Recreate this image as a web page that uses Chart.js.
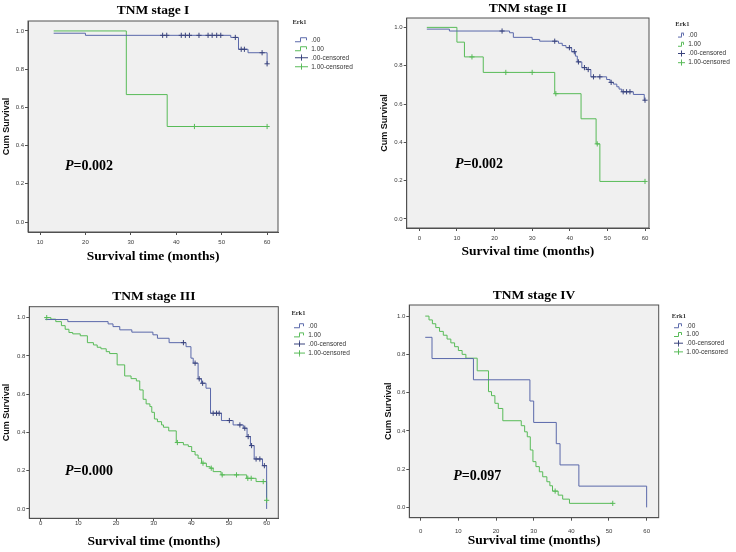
<!DOCTYPE html>
<html>
<head>
<meta charset="utf-8">
<script src="https://cdn.jsdelivr.net/npm/chart.js@4.4.1/dist/chart.umd.min.js"></script>
<style>
  body { margin: 0; background: #fff; }
  #wrap { position: relative; width: 736px; height: 552px; }
  canvas { position: absolute; }
</style>
</head>
<body>
<div id="wrap">
  <canvas id="km1" width="368" height="272" style="left:0;top:0"></canvas>
  <canvas id="km2" width="366" height="272" style="left:370px;top:0"></canvas>
  <canvas id="km3" width="368" height="277" style="left:0;top:275px"></canvas>
  <canvas id="km4" width="366" height="277" style="left:370px;top:275px"></canvas>
</div>
<script>
// ---- labels / ticks ----
const stageTitles = ['TNM stage I', 'TNM stage II', 'TNM stage III', 'TNM stage IV'];
const pValues = ['0.002', '0.002', '0.000', '0.097'];
const groupLabels = ['.00', '1.00', '.00-censored', '1.00-censored'];
const legendTitle = 'Erk1';
const xTicksStage1 = [10, 20, 30, 40, 50, 60];
const xTicks = [0, 10, 20, 30, 40, 50, 60];
const yTicks = [0, 0.2, 0.4, 0.6, 0.8, 1.0];

// ---- stage I ----
const s1LowTime = [13, 20, 52, 53.7, 55.8, 60];
const s1LowSurv = [0.988, 0.977, 0.966, 0.904, 0.886, 0.828];
const s1LowCensTime = [37, 37.9, 41.1, 42, 42.9, 45, 47, 47.9, 48.9, 49.8, 53, 54.3, 55, 58.9, 60];
const s1LowCensSurv = [0.977, 0.977, 0.977, 0.977, 0.977, 0.977, 0.977, 0.977, 0.977, 0.977, 0.966, 0.904, 0.904, 0.886, 0.828];
const s1HighTime = [13, 29, 38, 60];
const s1HighSurv = [1, 0.667, 0.5, 0.5];
const s1HighCensTime = [44, 60];
const s1HighCensSurv = [0.5, 0.5];

// ---- stage II ----
const s2LowTime = [2, 8, 24, 25, 30, 32, 37, 38, 39, 40.5, 41.5, 42, 43.2, 44.5, 45.6, 49.8, 50.7, 51.6, 52.5, 53.1, 53.8, 56.9, 59.8, 60];
const s2LowSurv = [0.991, 0.981, 0.972, 0.948, 0.937, 0.928, 0.917, 0.905, 0.894, 0.873, 0.85, 0.82, 0.79, 0.78, 0.742, 0.728, 0.713, 0.704, 0.69, 0.678, 0.664, 0.65, 0.62, 0.62];
const s2LowCensTime = [22, 36, 39.9, 41.2, 42.3, 43.9, 44.9, 46.3, 48, 51, 54.2, 55.1, 56, 60];
const s2LowCensSurv = [0.981, 0.928, 0.894, 0.873, 0.82, 0.79, 0.78, 0.742, 0.742, 0.713, 0.664, 0.664, 0.664, 0.62];
const s2HighTime = [2, 10, 12, 17, 36, 43, 47, 48, 60];
const s2HighSurv = [1, 0.923, 0.846, 0.765, 0.654, 0.523, 0.392, 0.196, 0.196];
const s2HighCensTime = [14, 23, 30, 36.3, 47.3, 60];
const s2HighCensSurv = [0.846, 0.765, 0.765, 0.654, 0.392, 0.196];

// ---- stage III ----
const s3LowTime = [1.2, 7.2, 17.9, 19.2, 21, 24.2, 29.8, 31, 34.1, 38.6, 39.9, 40.5, 41.8, 42.7, 43.9, 45.1, 48, 51.1, 53.8, 54.8, 55.7, 56.7, 58.9, 60];
const s3LowSurv = [0.99, 0.979, 0.967, 0.953, 0.936, 0.924, 0.91, 0.892, 0.869, 0.848, 0.788, 0.762, 0.68, 0.657, 0.631, 0.5, 0.462, 0.439, 0.422, 0.378, 0.331, 0.261, 0.226, 0];
const s3LowCensTime = [37.9, 41, 42.1, 43, 45.8, 46.7, 47.4, 50.1, 52.9, 54.2, 55.1, 56, 57.2, 58.2, 59.4];
const s3LowCensSurv = [0.869, 0.762, 0.68, 0.657, 0.5, 0.5, 0.5, 0.462, 0.439, 0.422, 0.378, 0.331, 0.261, 0.261, 0.226];
const s3HighTime = [1.2, 2.7, 4, 5.5, 6.5, 7.5, 8.5, 10.5, 12.4, 14, 15, 16, 17.4, 18.3, 20.3, 22.3, 24, 25.4, 26.3, 27.2, 28, 29, 29.5, 30.2, 31, 32.1, 32.6, 34, 36, 37.9, 39.2, 40.1, 41, 41.8, 42.7, 44, 45, 45.8, 47.9, 54.7, 57.2, 60];
const s3HighSurv = [1, 0.992, 0.979, 0.958, 0.939, 0.922, 0.915, 0.905, 0.869, 0.857, 0.845, 0.837, 0.822, 0.812, 0.753, 0.695, 0.681, 0.669, 0.622, 0.573, 0.549, 0.535, 0.505, 0.47, 0.456, 0.439, 0.427, 0.408, 0.347, 0.335, 0.326, 0.3, 0.282, 0.265, 0.239, 0.221, 0.213, 0.195, 0.178, 0.16, 0.143, 0.045];
const s3HighCensTime = [1.6, 36.3, 43.1, 45.3, 48.2, 52, 55, 55.9, 59.1, 60];
const s3HighCensSurv = [1, 0.347, 0.239, 0.213, 0.178, 0.178, 0.16, 0.16, 0.143, 0.045];

// ---- stage IV ----
const s4LowTime = [1.2, 3, 14, 29, 30, 36, 37, 42, 60];
const s4LowSurv = [0.889, 0.778, 0.667, 0.556, 0.444, 0.333, 0.222, 0.111, 0];
const s4LowCensTime = [];
const s4LowCensSurv = [];
const s4HighTime = [1.2, 2.2, 3.1, 4, 5, 6, 7, 8, 9, 10, 11, 12, 15, 18, 18.8, 19.7, 20.6, 21.8, 26.7, 27.6, 28.3, 29.1, 29.8, 30.6, 31.5, 32.4, 33.5, 34.3, 35, 36.5, 37.7, 39.5, 51];
const s4HighSurv = [1, 0.98, 0.96, 0.94, 0.92, 0.9, 0.88, 0.86, 0.84, 0.82, 0.8, 0.78, 0.714, 0.605, 0.584, 0.544, 0.517, 0.453, 0.427, 0.395, 0.369, 0.3, 0.239, 0.213, 0.186, 0.16, 0.134, 0.113, 0.085, 0.064, 0.043, 0.021, 0.021];
const s4HighCensTime = [35.7, 51];
const s4HighCensSurv = [0.085, 0.021];

// ---- styling ----
const SERIF = '"Liberation Serif", "Times New Roman", serif';
const SANS = '"Liberation Sans", Arial, sans-serif';
const BLUE = '#5a68aa';
const BLUE_CENS = '#39437c';
const GREEN = '#58bb58';
const AXIS = '#505050';
const TICK_TXT = '#3a3a3a';

function points(times, surv) {
  return times.map((t, i) => ({ x: t, y: surv[i] }));
}

function stepIcon(color, w) {
  const c = document.createElement('canvas');
  c.width = w; c.height = 7;
  const g = c.getContext('2d');
  const m = Math.round(w * 0.42) + 0.5;
  g.strokeStyle = color; g.lineWidth = 1;
  g.beginPath();
  g.moveTo(0, 5.5); g.lineTo(m, 5.5); g.lineTo(m, 1.5); g.lineTo(w - 1.5, 1.5); g.lineTo(w - 1.5, 4);
  g.stroke();
  return c;
}
function censorIcon(color, w) {
  const c = document.createElement('canvas');
  c.width = w; c.height = 7;
  const g = c.getContext('2d');
  const m = Math.floor(w / 2) + 0.5;
  g.strokeStyle = color; g.lineWidth = 1;
  g.beginPath();
  g.moveTo(0, 3.5); g.lineTo(w, 3.5);
  g.moveTo(m, 0.5); g.lineTo(m, 6.5);
  g.stroke();
  return c;
}

// grey plot area, frame and the P value label
const kmFrame = {
  id: 'kmFrame',
  beforeDraw(chart) {
    const { ctx, chartArea: a } = chart;
    ctx.save();
    ctx.fillStyle = '#f0f0f0';
    ctx.fillRect(a.left, a.top, a.right - a.left, a.bottom - a.top);
    ctx.strokeStyle = AXIS;
    ctx.lineWidth = 1;
    ctx.strokeRect(a.left, a.top, a.right - a.left, a.bottom - a.top);
    ctx.restore();
  },
  afterDatasetsDraw(chart, args, opts) {
    const { ctx, scales } = chart;
    const px = scales.x.getPixelForValue(opts.at[0]);
    const py = scales.y.getPixelForValue(opts.at[1]);
    ctx.save();
    ctx.fillStyle = '#000';
    ctx.textBaseline = 'alphabetic';
    ctx.font = 'italic bold 14px ' + SERIF;
    ctx.fillText('P', px, py);
    const w = ctx.measureText('P').width;
    ctx.font = 'bold 14px ' + SERIF;
    ctx.fillText('=' + opts.value, px + w, py);
    ctx.restore();
  }
};

function drawPanel(id, idx, series, ticksX, geo) {
  const legendLeft = geo.iconX - geo.legPad;
  const legendW = Math.min(geo.W - legendLeft, 62);
  const icons = [stepIcon(BLUE, geo.iconW), stepIcon(GREEN, geo.iconW),
                 censorIcon(BLUE_CENS, geo.iconW), censorIcon(GREEN, geo.iconW)];
  new Chart(document.getElementById(id), {
    type: 'line',
    data: {
      datasets: [
        { label: groupLabels[0], data: points(series[0], series[1]), borderColor: BLUE, borderWidth: 1,
          stepped: 'before', pointRadius: 0, fill: false, order: 1, yAxisID: 'y' },
        { label: groupLabels[1], data: points(series[4], series[5]), borderColor: GREEN, borderWidth: 1,
          stepped: 'before', pointRadius: 0, fill: false, order: 2, yAxisID: 'y' },
        { type: 'scatter', label: groupLabels[2], data: points(series[2], series[3]), showLine: false,
          pointStyle: 'cross', pointRadius: 2.6, borderColor: BLUE_CENS, borderWidth: 1, order: 0, yAxisID: 'y' },
        { type: 'scatter', label: groupLabels[3], data: points(series[6], series[7]), showLine: false,
          pointStyle: 'cross', pointRadius: 2.6, borderColor: GREEN, borderWidth: 1, order: 0, yAxisID: 'y' }
      ]
    },
    options: {
      responsive: false,
      animation: false,
      devicePixelRatio: 1,
      events: [],
      layout: { padding: { left: 0, top: 0, bottom: 0, right: geo.W - legendW - legendLeft } },
      plugins: {
        tooltip: { enabled: false },
        title: {
          display: true,
          text: stageTitles[idx],
          fullSize: false,
          color: '#000',
          font: { family: SERIF, size: 13.5, weight: 'bold' },
          padding: { top: geo.titleY - 8.1, bottom: geo.T - geo.titleY - 8.1 }
        },
        legend: {
          position: 'right',
          align: 'start',
          maxWidth: legendW,
          title: {
            display: true,
            text: legendTitle,
            position: 'start',
            color: '#333',
            font: { family: SERIF, size: 6.5, weight: 'bold' },
            padding: { top: geo.legTitleY - 3.25, bottom: geo.item0Y - geo.legTitleY - 3.25 - geo.legPad - 7.8 }
          },
          labels: {
            usePointStyle: true,
            pointStyleWidth: geo.iconW,
            boxHeight: 6.5,
            padding: geo.legPad,
            color: '#333',
            font: { family: SANS, size: 6.5 },
            generateLabels: chart => chart.data.datasets.map((ds, i) => ({
              text: ds.label, pointStyle: icons[i], fillStyle: 'rgba(0,0,0,0)',
              strokeStyle: 'rgba(0,0,0,0)', lineWidth: 0, hidden: false, datasetIndex: i, fontColor: '#333'
            }))
          }
        },
        kmFrame: { at: geo.pAt, value: pValues[idx] }
      },
      scales: {
        x: {
          type: 'linear',
          min: geo.xMin, max: geo.xMax,
          afterFit: s => { s.height = geo.H - geo.B; },
          afterBuildTicks: s => { s.ticks = ticksX.map(v => ({ value: v })); },
          ticks: { font: { family: SANS, size: 6 }, color: TICK_TXT, padding: geo.xTickY - geo.B - 3 - 3.5,
                   maxRotation: 0, callback: v => String(v) },
          grid: { drawOnChartArea: false, tickLength: 3, color: AXIS },
          border: { color: AXIS },
          title: { display: true, text: 'Survival time (months)', color: '#000',
                   font: { family: SERIF, size: 13.5, weight: 'bold' },
                   padding: { top: 0, bottom: geo.H - geo.xTitleY - 8.1 } }
        },
        y: {
          type: 'linear',
          position: 'left',
          min: geo.yMin, max: geo.yMax,
          afterFit: s => { s.width = geo.L; },
          afterBuildTicks: s => { s.ticks = yTicks.map(v => ({ value: v })); },
          ticks: { font: { family: SANS, size: 6 }, color: TICK_TXT, padding: 1, callback: v => v.toFixed(1) },
          grid: { drawOnChartArea: false, tickLength: 3, color: AXIS },
          border: { color: AXIS },
          title: { display: true, text: 'Cum Survival', color: '#111',
                   font: { family: SANS, size: 9, weight: 'bold' },
                   padding: { top: geo.yTitleX - 5.4, bottom: 0 } }
        },
        ySpacer: {
          type: 'linear',
          position: 'right',
          display: true,
          ticks: { display: false },
          grid: { display: false },
          border: { display: false },
          afterFit: s => { s.width = legendLeft - geo.R; }
        }
      }
    },
    plugins: [kmFrame]
  });
}

drawPanel('km1', 0,
  [s1LowTime, s1LowSurv, s1LowCensTime, s1LowCensSurv, s1HighTime, s1HighSurv, s1HighCensTime, s1HighCensSurv],
  xTicksStage1,
  { W: 368, H: 272, L: 28, R: 278, T: 21, B: 232, titleY: 10.7, yTitleX: 6.7, xTickY: 242.3, xTitleY: 257,
    iconX: 295, iconW: 13, legPad: 2.5, legTitleY: 22, item0Y: 43, xMin: 7.35, xMax: 62.4, yMin: -0.052, yMax: 1.052,
    pAt: [15.5, 0.27] });

drawPanel('km2', 1,
  [s2LowTime, s2LowSurv, s2LowCensTime, s2LowCensSurv, s2HighTime, s2HighSurv, s2HighCensTime, s2HighCensSurv],
  xTicks,
  { W: 366, H: 272, L: 36.7, R: 279, T: 18, B: 228, titleY: 8.3, yTitleX: 15, xTickY: 238.7, xTitleY: 251.7,
    iconX: 308, iconW: 7, legPad: 2.7, legTitleY: 24, item0Y: 38.3, xMin: -3.35, xMax: 61.06, yMin: -0.047, yMax: 1.049,
    pAt: [9.5, 0.264] });

drawPanel('km3', 2,
  [s3LowTime, s3LowSurv, s3LowCensTime, s3LowCensSurv, s3HighTime, s3HighSurv, s3HighCensTime, s3HighCensSurv],
  xTicks,
  { W: 368, H: 277, L: 29.3, R: 278.3, T: 31.7, B: 243.3, titleY: 21.7, yTitleX: 6.7, xTickY: 248.3, xTitleY: 266.7,
    iconX: 294, iconW: 11, legPad: 2.6, legTitleY: 38.3, item0Y: 54, xMin: -3.03, xMax: 63.1, yMin: -0.049, yMax: 1.057,
    pAt: [6.45, 0.178] });

drawPanel('km4', 3,
  [s4LowTime, s4LowSurv, s4LowCensTime, s4LowCensSurv, s4HighTime, s4HighSurv, s4HighCensTime, s4HighCensSurv],
  xTicks,
  { W: 366, H: 277, L: 39.3, R: 288.7, T: 30, B: 242.7, titleY: 20.7, yTitleX: 18.3, xTickY: 256, xTitleY: 266,
    iconX: 304, iconW: 9, legPad: 2.2, legTitleY: 41, item0Y: 54, xMin: -3.03, xMax: 63.2, yMin: -0.054, yMax: 1.058,
    pAt: [8.66, 0.143] });
</script>
</body>
</html>
